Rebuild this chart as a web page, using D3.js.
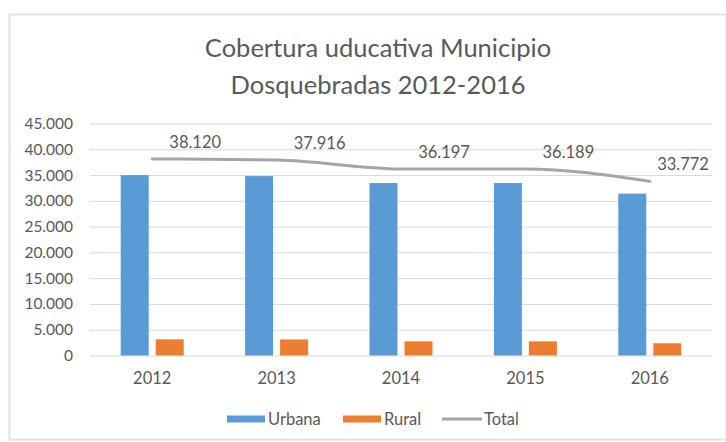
<!DOCTYPE html>
<html>
<head>
<meta charset="utf-8">
<script src="https://cdn.jsdelivr.net/npm/d3@7"></script>
<style>
  body { margin: 0; background: #fff; }
  svg { display: block; font-family: Lato, "Open Sans", sans-serif; }
</style>
</head>
<body>
<div id="chart"></div>
<script>
// data
const years = ["2012", "2013", "2014", "2015", "2016"];
const urbana = [34990, 34800, 33450, 33450, 31400];
const rural = [3130, 3116, 2747, 2739, 2372];
const total = [38120, 37916, 36197, 36189, 33772];
const yTicks = [0, 5000, 10000, 15000, 20000, 25000, 30000, 35000, 40000, 45000];
const seriesNames = ["Urbana", "Rural", "Total"];
const titleLines = ["Cobertura uducativa Municipio", "Dosquebradas 2012-2016"];

const colors = {Urbana: "#5b9bd5", Rural: "#ed7d31", Total: "#a5a5a5"};
const textColor = "#595959";

const W = 726, H = 442;
const plot = {left: 90, right: 712, top: 123.5, bottom: 355.5};

const svg = d3.select("#chart").append("svg")
    .attr("width", W)
    .attr("height", H);

// chart frame
svg.append("rect")
    .attr("x", 9.5).attr("y", 14.5)
    .attr("width", W - 9).attr("height", 425)
    .attr("fill", "#fff")
    .attr("stroke", "#e3e3e3")
    .attr("stroke-width", 2);

const fmt = d3.formatLocale({decimal: ",", thousands: ".", grouping: [3], currency: ["$", ""]}).format(",");

const x0 = d3.scaleBand().domain(years).range([plot.left, plot.right]);
const groupHalf = 31.5;
const x1 = d3.scaleBand().domain(["Urbana", "Rural"])
    .range([x0.bandwidth() / 2 - groupHalf, x0.bandwidth() / 2 + groupHalf])
    .paddingInner(0.2);
const y = d3.scaleLinear().domain([0, 45000]).range([plot.bottom, plot.top]);

// title
svg.append("g").selectAll("text")
    .data(titleLines)
    .join("text")
    .attr("x", 378)
    .attr("y", (d, i) => 48 + i * 37)
    .attr("dy", "0.35em")
    .attr("text-anchor", "middle")
    .attr("fill", textColor)
    .style("font-size", "25.5px")
    .text(d => d);

// gridlines + y labels
const yAxis = d3.axisLeft(y).tickValues(yTicks).tickFormat(fmt)
    .tickSize(-(plot.right - plot.left)).tickPadding(17);
svg.append("g")
    .attr("transform", `translate(${plot.left},0)`)
    .call(yAxis)
    .call(g => g.select(".domain").remove())
    .call(g => g.selectAll(".tick line").attr("stroke", "#d9d9d9").attr("stroke-width", 1))
    .call(g => g.selectAll(".tick text").attr("fill", textColor)
        .style("font-size", "15.5px").style("font-family", "Lato, sans-serif"));

// x labels
const xAxis = d3.axisBottom(x0).tickSize(0).tickPadding(17);
svg.append("g")
    .attr("transform", `translate(0,${plot.bottom})`)
    .call(xAxis)
    .call(g => g.select(".domain").remove())
    .call(g => g.selectAll(".tick text").attr("fill", textColor)
        .style("font-size", "16.5px").style("font-family", "Lato, sans-serif"));

// bars
const rows = years.map((yr, i) => ({year: yr, Urbana: urbana[i], Rural: rural[i]}));
svg.append("g").selectAll("g")
    .data(rows)
    .join("g")
    .attr("transform", d => `translate(${x0(d.year)},0)`)
    .selectAll("rect")
    .data(d => ["Urbana", "Rural"].map(k => ({key: k, value: d[k]})))
    .join("rect")
    .attr("x", d => x1(d.key))
    .attr("width", x1.bandwidth())
    .attr("y", d => y(d.value))
    .attr("height", d => y(0) - y(d.value))
    .attr("fill", d => colors[d.key]);

// total line
const cx = d => x0(d) + x0.bandwidth() / 2;
const line = d3.line()
    .x((d, i) => cx(years[i]))
    .y(d => y(d))
    .curve(d3.curveMonotoneX);
svg.append("path")
    .datum(total)
    .attr("d", line)
    .attr("fill", "none")
    .attr("stroke", colors.Total)
    .attr("stroke-width", 3)
    .attr("stroke-linecap", "round");

// total data labels
svg.append("g").selectAll("text")
    .data(total)
    .join("text")
    .attr("x", (d, i) => Math.min(cx(years[i]) + 43, 683))
    .attr("y", d => y(d) - 17)
    .attr("dy", "0.35em")
    .attr("text-anchor", "middle")
    .attr("fill", textColor)
    .style("font-size", "16.5px")
    .text(d => fmt(d));

// legend
const legendItems = [
    {name: seriesNames[0], x: 227, type: "rect"},
    {name: seriesNames[1], x: 343, type: "rect"},
    {name: seriesNames[2], x: 442, type: "line"}
];
const legend = svg.append("g").attr("transform", "translate(0,419)");
legendItems.forEach(it => {
    if (it.type === "rect") {
        legend.append("rect").attr("x", it.x).attr("y", -3.5)
            .attr("width", 38).attr("height", 7).attr("fill", colors[it.name]);
    } else {
        legend.append("line").attr("x1", it.x).attr("x2", it.x + 40)
            .attr("y1", 0).attr("y2", 0)
            .attr("stroke", colors[it.name]).attr("stroke-width", 3);
    }
    legend.append("text")
        .attr("x", it.x + (it.type === "rect" ? 41 : 42))
        .attr("dy", "0.35em")
        .attr("fill", textColor)
        .style("font-size", "16.5px")
        .text(it.name);
});
</script>
</body>
</html>
